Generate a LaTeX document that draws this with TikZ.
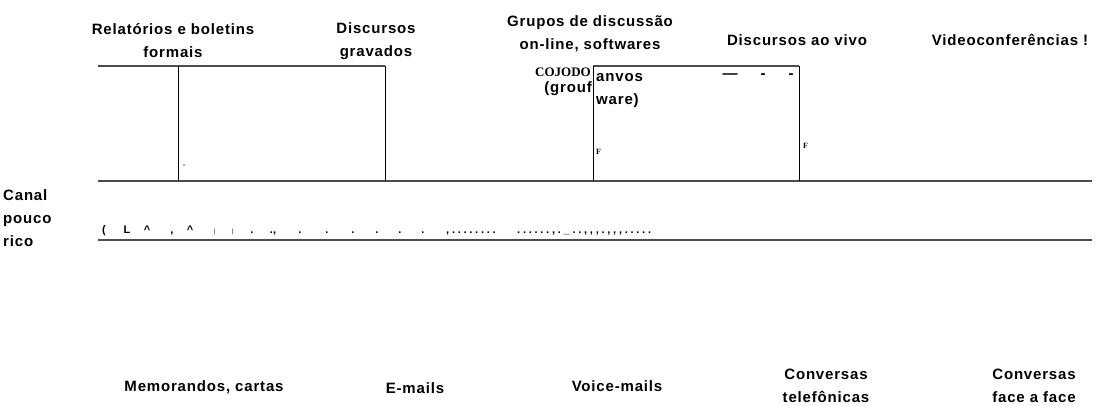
\documentclass[tikz,border=0pt]{standalone}
\usepackage{fontspec}
\setmainfont{Liberation Sans}
\newfontfamily\serifx{Liberation Serif}
\newfontfamily\lblfont[LetterSpace=5.5]{Liberation Sans}
\newfontfamily\dotfont[LetterSpace=25]{Liberation Sans}
\begin{document}
\begin{tikzpicture}[x=1pt,y=-1pt,
  lbl/.style={font=\lblfont\fontsize{15}{23}\selectfont\bfseries, align=center, inner sep=0pt},
  hline/.style={draw=black!70, line width=1.6pt},
  vline/.style={draw=black, line width=1pt},
  dotx/.style={font=\fontsize{11}{12}\selectfont\bfseries, inner sep=0pt, anchor=base},
  tiny/.style={font=\serifx\fontsize{8}{9}\selectfont\bfseries, inner sep=0pt}]
\useasboundingbox (0,0) rectangle (1099,405);
\fill[white] (0,0) rectangle (1099,405);
% top labels
\node[lbl] (t1) at (173,41) {Relatórios e boletins\\formais};
\node[lbl] (t2) at (376,41) {Discursos\\gravados};
\node[lbl] (t3) at (590,34) {Grupos de discussão\\on-line, softwares};
\node[lbl] (t4) at (797,40) {Discursos ao vivo};
\node[lbl] (t5) at (1010,40) {Videoconferências !};
% bottom labels
\node[lbl] (b1) at (204,387) {Memorandos, cartas};
\node[lbl] (b2) at (415,388) {E-mails};
\node[lbl] (b3) at (617,386) {Voice-mails};
\node[lbl] (b4) at (826,386) {Conversas\\telefônicas};
\node[lbl] (b5) at (1034,386) {Conversas\\face a face};
% left label
\node[lbl, anchor=west, align=left] (cl) at (3,218) {Canal\\pouco\\rico};
% coordinates
\coordinate (a1) at (98,66);
\coordinate (a2) at (178,66);
\coordinate (a3) at (385,66);
\coordinate (a4) at (593,66);
\coordinate (a5) at (799,66);
\coordinate (m0) at (98,181);
\coordinate (m2) at (178,181);
\coordinate (m3) at (385,181);
\coordinate (m4) at (593,181);
\coordinate (m5) at (799,181);
\coordinate (m6) at (1092,181);
\coordinate (l0) at (98,240);
\coordinate (l6) at (1092,240);
% lines
\draw[hline] (a1) -- (a3);
\draw[hline] (a4) -- (a5);
\draw[hline] (m0) -- (m6);
\draw[hline] (l0) -- (l6);
\draw[vline] (a2) -- (m2);
\draw[vline] (a3) -- (m3);
\draw[vline] (a4) -- (m4);
\draw[vline] (a5) -- (m5);
% inside box texts
\node[tiny, anchor=east, font=\serifx\fontsize{13}{14}\selectfont\bfseries] (c1) at (591,72) {COJODO};
\node[lbl, anchor=east] (c2) at (592,89) {(grouf};
\node[lbl, anchor=west] (c3) at (596,78) {anvos};
\node[lbl, anchor=west] (c4) at (596,101) {ware)};
\node[lbl] (c5) at (730,76) {—};
\node[lbl] (c6) at (763,76) {-};
\node[lbl] (c7) at (791,76) {-};
\node[tiny, anchor=west] (f1) at (596,152) {F};
\node[tiny, anchor=west] (f2) at (803,146) {F};
\fill[black!50] (184,165) circle (1pt);
% dotted sequence
\node[dotx] (d1) at (104,233) {(};
\node[dotx] (d2) at (127,233) {L};
\node[dotx] (d3) at (147,233) {\^{}};
\node[dotx] (d4) at (172,233) {,};
\node[dotx] (d5) at (190,233) {\^{}};
\node[dotx, font=\fontsize{6}{7}\selectfont] (d6) at (215,233) {|};
\node[dotx, font=\fontsize{6}{7}\selectfont] (d7) at (233,233) {|};
\node[dotx] (d8) at (252,233) {.};
\node[dotx] (d9) at (273,233) {.,};
\node[dotx] (d10) at (300,233) {.};
\node[dotx] (d11) at (327,233) {.};
\node[dotx] (d12) at (353,233) {.};
\node[dotx] (d13) at (377,233) {.};
\node[dotx] (d14) at (400,233) {.};
\node[dotx] (d15) at (423,233) {.};
\node[dotx, anchor=base west, font=\dotfont\fontsize{11}{12}\selectfont\bfseries] (d16) at (446,233) {,........};
\node[dotx, anchor=base west, font=\dotfont\fontsize{11}{12}\selectfont\bfseries] (d17) at (517,233) {......,.\_..,,,.,,,.....};
\end{tikzpicture}
\end{document}
